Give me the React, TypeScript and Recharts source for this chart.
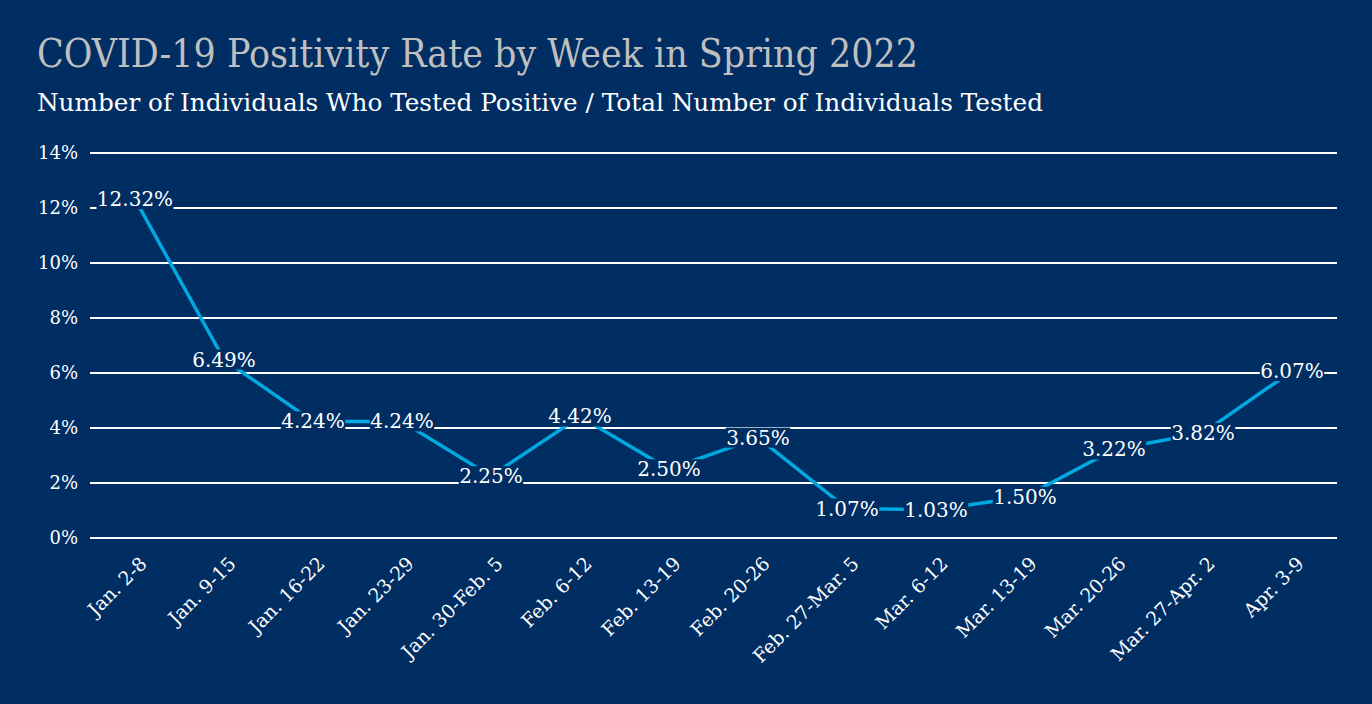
import React from "react";
import { LineChart, Line, XAxis, YAxis, CartesianGrid, LabelList } from "recharts";

const weeks = [
  "Jan. 2-8",
  "Jan. 9-15",
  "Jan. 16-22",
  "Jan. 23-29",
  "Jan. 30-Feb. 5",
  "Feb. 6-12",
  "Feb. 13-19",
  "Feb. 20-26",
  "Feb. 27-Mar. 5",
  "Mar. 6-12",
  "Mar. 13-19",
  "Mar. 20-26",
  "Mar. 27-Apr. 2",
  "Apr. 3-9",
];
const rates = [12.32, 6.49, 4.24, 4.24, 2.25, 4.42, 2.5, 3.65, 1.07, 1.03, 1.5, 3.22, 3.82, 6.07];
const yTicks = [0, 2, 4, 6, 8, 10, 12, 14];

const data = weeks.map((week, i) => ({ week, rate: rates[i] }));

const BG = "#002d62";
const SERIF = "'DejaVu Serif', 'Liberation Serif', serif";

function RateLabel(props: any) {
  const { x, y, value } = props;
  const text = `${Number(value).toFixed(2)}%`;
  const w = text.length * 12.5 + 2;
  return (
    <g>
      <rect x={x - w / 2} y={y - 10} width={w} height={20} fill={BG} />
      <text
        x={x}
        y={y}
        dy={7}
        textAnchor="middle"
        fill="#ffffff"
        fontFamily={SERIF}
        fontSize={20}
      >
        {text}
      </text>
    </g>
  );
}

function WeekTick(props: any) {
  const { x, y, payload } = props;
  return (
    <g transform={`translate(${x + 13},${y + 19})`}>
      <text
        textAnchor="end"
        transform="rotate(-45)"
        fill="#ffffff"
        fontFamily={SERIF}
        fontSize={19}
      >
        {payload.value}
      </text>
    </g>
  );
}

export default function App() {
  return (
    <div
      style={{
        position: "absolute",
        left: 0,
        top: 0,
        width: 1372,
        height: 704,
        background: BG,
      }}
    >
      <svg
        width={1372}
        height={130}
        style={{ position: "absolute", left: 0, top: 0 }}
      >
        <text
          x={37}
          y={67}
          fill="#bfbfbf"
          fontFamily={SERIF}
          fontSize={39}
          textLength={881}
          lengthAdjust="spacingAndGlyphs"
        >
          COVID-19 Positivity Rate by Week in Spring 2022
        </text>
        <text
          x={37}
          y={111}
          fill="#ffffff"
          fontFamily={SERIF}
          fontSize={25}
          textLength={1006}
          lengthAdjust="spacingAndGlyphs"
        >
          Number of Individuals Who Tested Positive / Total Number of Individuals Tested
        </text>
      </svg>
      <div style={{ position: "absolute", left: 0, top: 0 }}>
        <LineChart
          width={1372}
          height={704}
          data={data}
          margin={{ top: 153, right: 35, bottom: 66, left: 0 }}
        >
          <CartesianGrid vertical={false} stroke="#ffffff" strokeWidth={2} />
          <XAxis
            dataKey="week"
            axisLine={false}
            tickLine={false}
            interval={0}
            height={100}
            tick={<WeekTick />}
            padding={{ left: 45, right: 45 }}
          />
          <YAxis
            width={90}
            domain={[0, 14]}
            ticks={yTicks}
            axisLine={false}
            tickLine={false}
            tickFormatter={(v: number) => `${v}%`}
            tick={{ fill: "#ffffff", fontFamily: SERIF, fontSize: 18 }}
            tickMargin={6}
          />
          <Line
            type="linear"
            dataKey="rate"
            stroke="#00a9e0"
            strokeWidth={3.5}
            dot={false}
            isAnimationActive={false}
          >
            <LabelList dataKey="rate" content={<RateLabel />} />
          </Line>
        </LineChart>
      </div>
    </div>
  );
}
